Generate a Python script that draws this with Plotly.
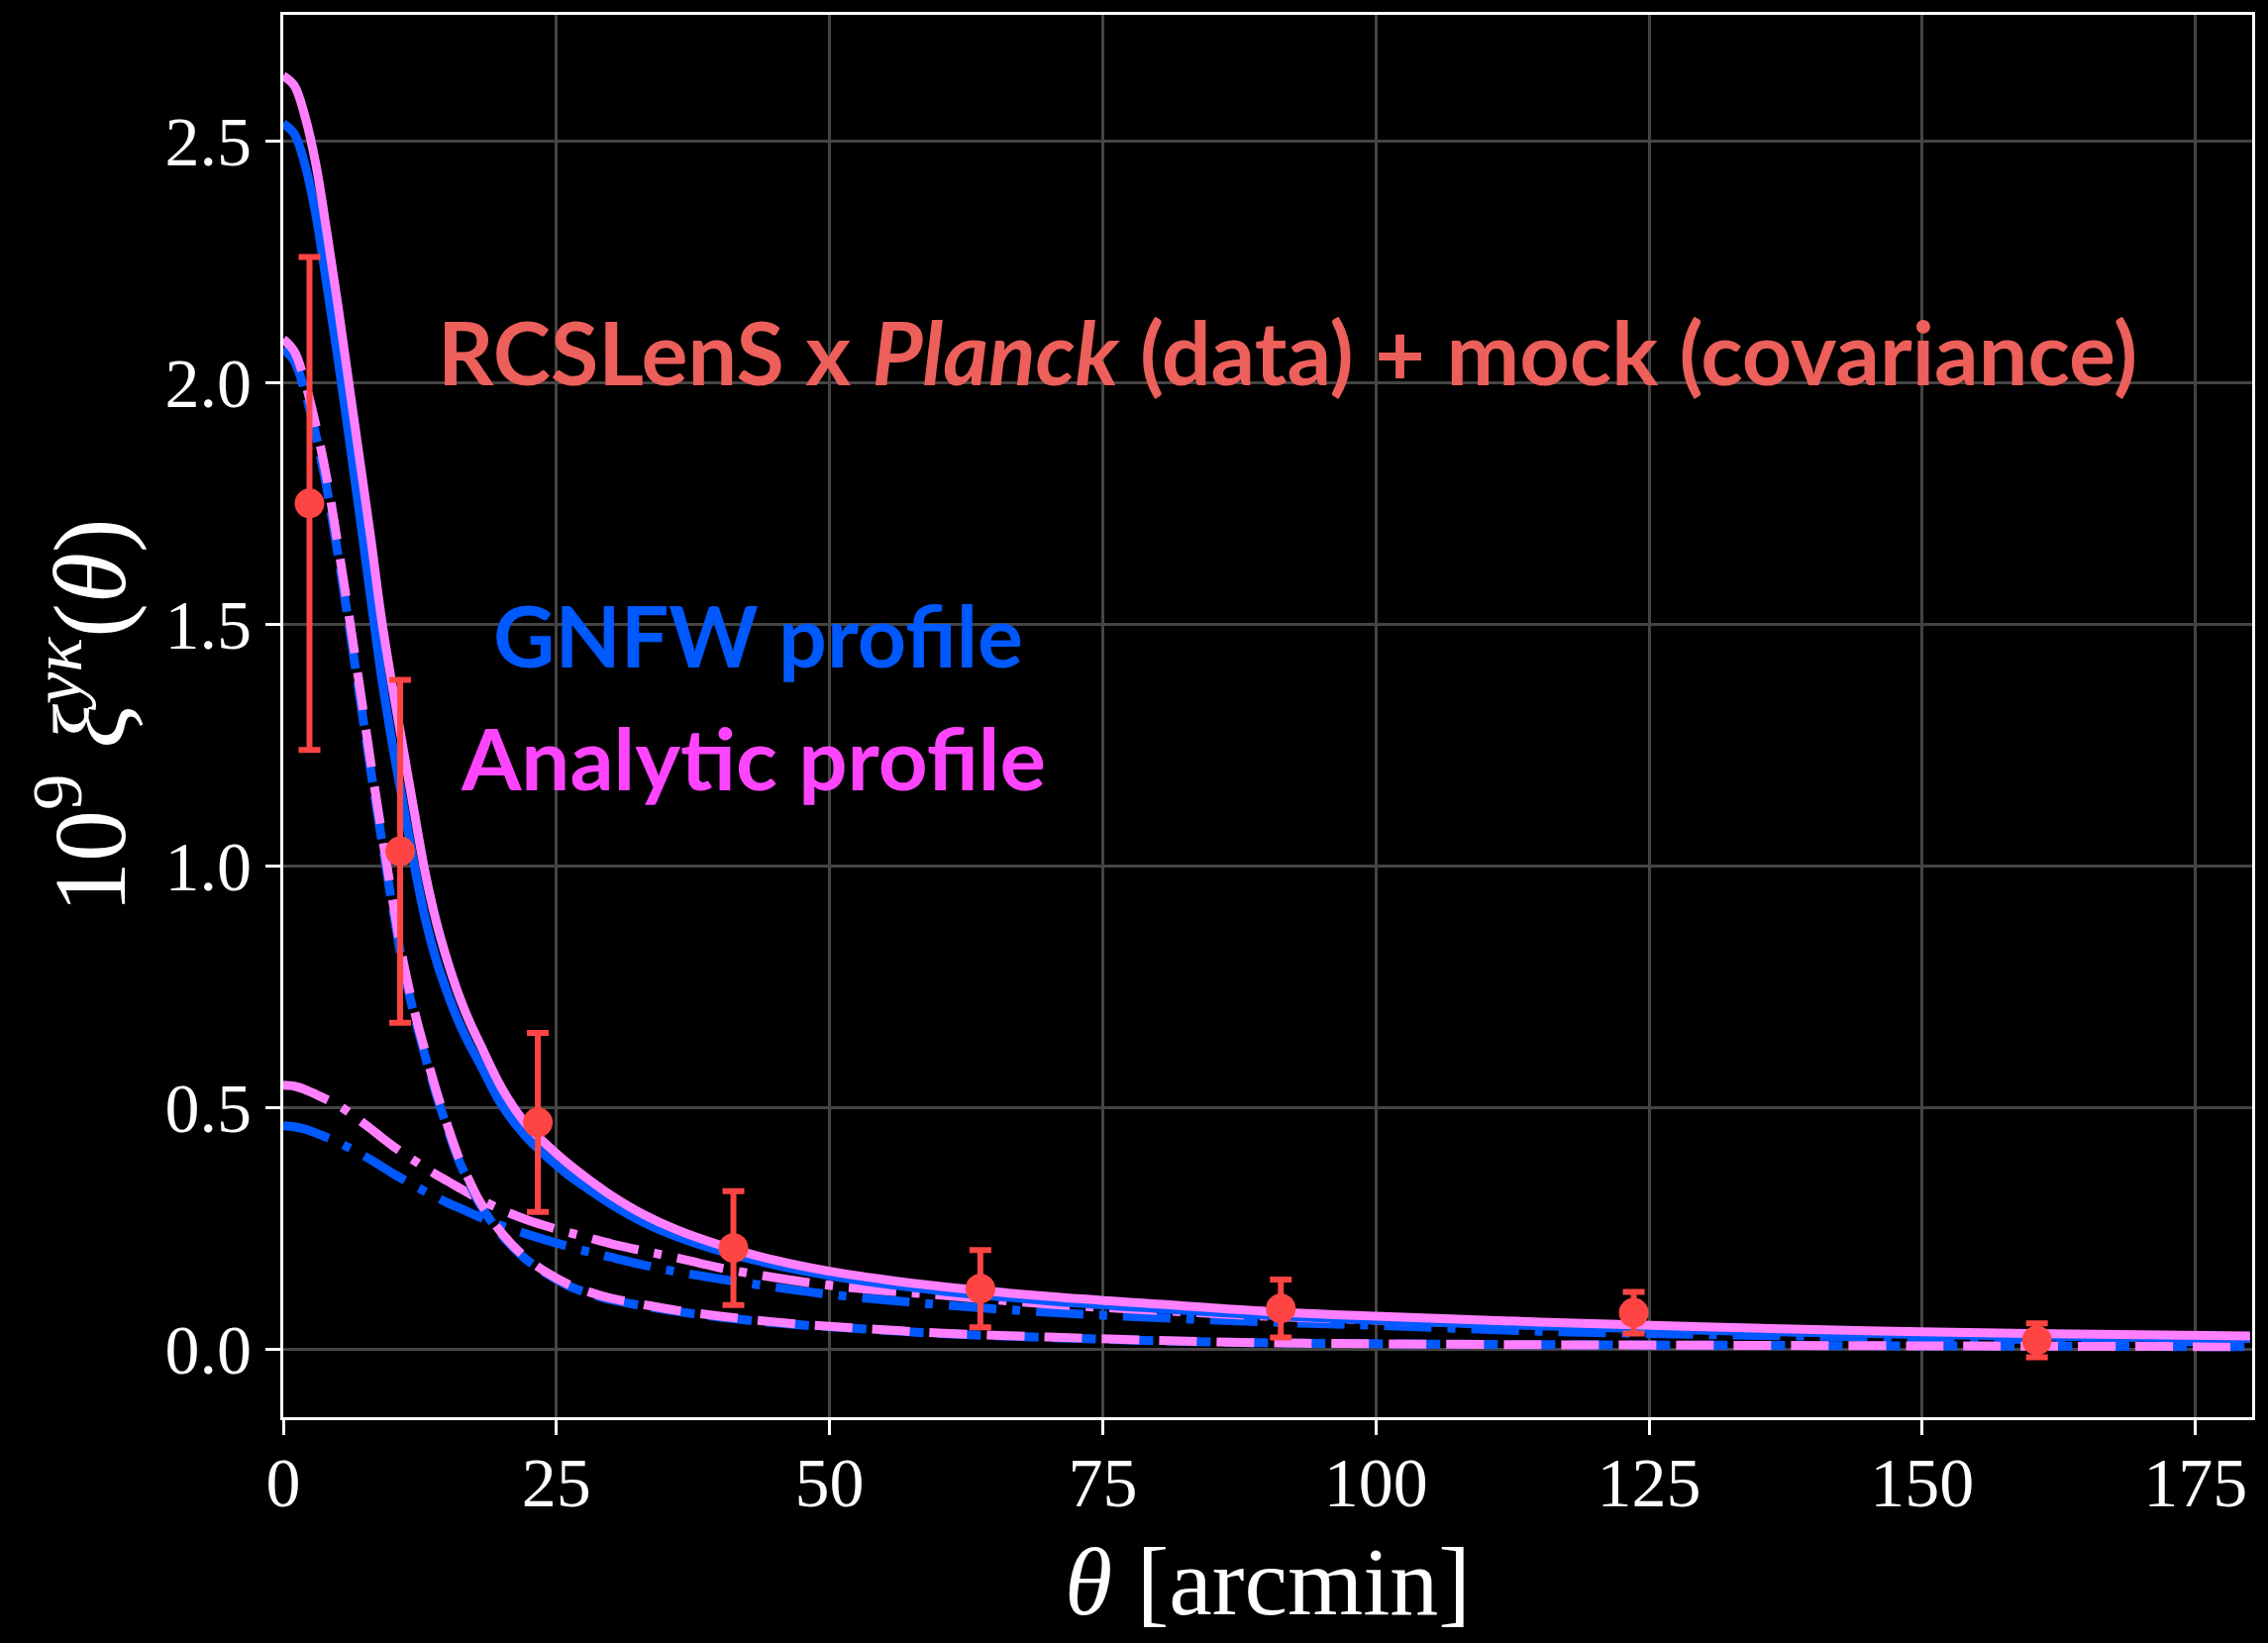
import plotly.graph_objects as go

# ---------------- data ----------------
theta = [0, 1, 2, 3, 4, 5, 6, 7, 8, 9, 10, 11, 12, 13, 14, 15, 16, 17, 18, 20, 22, 24, 26, 28, 30,
         33, 36, 40, 45, 50, 55, 60, 70, 80, 90, 100, 115, 130, 145, 160, 180]

analytic_total = [2.635, 2.615, 2.55, 2.45, 2.31, 2.16, 2.0, 1.84, 1.68, 1.51, 1.37, 1.24, 1.11, 0.985,
                  0.885, 0.805, 0.737, 0.68, 0.632, 0.54, 0.472, 0.425, 0.385, 0.35, 0.318,
                  0.278, 0.247, 0.215, 0.184, 0.161, 0.144, 0.13, 0.109, 0.093, 0.078, 0.068, 0.056,
                  0.046, 0.038, 0.032, 0.027]

gnfw_total = [2.536, 2.515, 2.45, 2.345, 2.2, 2.05, 1.89, 1.725, 1.555, 1.39, 1.25, 1.125, 1.0, 0.89,
              0.805, 0.738, 0.68, 0.632, 0.59, 0.505, 0.445, 0.4, 0.362, 0.33, 0.3,
              0.262, 0.233, 0.203, 0.174, 0.152, 0.135, 0.121, 0.1, 0.084, 0.07, 0.06, 0.048,
              0.039, 0.032, 0.027, 0.022]

analytic_1h = [2.09, 2.065, 2.00, 1.91, 1.80, 1.665, 1.52, 1.37, 1.215, 1.07, 0.93, 0.80, 0.70, 0.615,
               0.535, 0.465, 0.40, 0.35, 0.305, 0.24, 0.193, 0.16, 0.135, 0.118, 0.105,
               0.092, 0.08, 0.068, 0.056, 0.047, 0.04, 0.033, 0.025, 0.018, 0.013, 0.011, 0.009,
               0.008, 0.007, 0.006, 0.005]

gnfw_1h = [2.07, 2.045, 1.98, 1.89, 1.78, 1.645, 1.50, 1.35, 1.198, 1.055, 0.915, 0.788, 0.69, 0.605,
           0.527, 0.458, 0.394, 0.345, 0.3, 0.236, 0.19, 0.157, 0.132, 0.115, 0.102,
           0.089, 0.078, 0.066, 0.054, 0.046, 0.039, 0.032, 0.024, 0.017, 0.013, 0.011, 0.009,
           0.008, 0.007, 0.006, 0.005]

analytic_2h = [0.546, 0.544, 0.537, 0.527, 0.516, 0.505, 0.49, 0.473, 0.456, 0.438, 0.421, 0.405, 0.39,
               0.375, 0.361, 0.348, 0.335, 0.322, 0.31, 0.288, 0.27, 0.255, 0.242, 0.23, 0.218,
               0.203, 0.189, 0.168, 0.148, 0.132, 0.121, 0.112, 0.093, 0.08, 0.068, 0.06, 0.05,
               0.041, 0.034, 0.028, 0.022]

gnfw_2h = [0.462, 0.46, 0.455, 0.447, 0.438, 0.428, 0.417, 0.405, 0.392, 0.378, 0.364, 0.351, 0.338,
           0.326, 0.314, 0.303, 0.293, 0.283, 0.273, 0.255, 0.24, 0.226, 0.213, 0.201, 0.19,
           0.174, 0.16, 0.145, 0.128, 0.113, 0.102, 0.092, 0.076, 0.065, 0.056, 0.049, 0.037,
           0.03, 0.025, 0.02, 0.013]

theta_data = [2.4, 10.7, 23.3, 41.2, 63.8, 91.3, 123.6, 160.5]
xi_data = [1.75, 1.03, 0.469, 0.209, 0.125, 0.084, 0.075, 0.018]
xi_err = [0.51, 0.355, 0.185, 0.118, 0.08, 0.06, 0.043, 0.035]

x_ticks = [0, 25, 50, 75, 100, 125, 150, 175]
y_ticks = [0.0, 0.5, 1.0, 1.5, 2.0, 2.5]
y_ticktext = ["0.0", "0.5", "1.0", "1.5", "2.0", "2.5"]

# ---------------- styles ----------------
PINK = "#FF80FF"
BLUE = "#0058FF"
RED = "#FF4444"
LW = 9

fig = go.Figure()

def add_line(y, color, dash, width=LW):
    fig.add_trace(go.Scatter(x=theta, y=y, mode="lines",
                             line=dict(color=color, width=width, dash=dash, shape="spline", smoothing=1.0),
                             hoverinfo="skip", showlegend=False))

DASHDOT = "48px,16px,8px,16px"
add_line(gnfw_2h, BLUE, DASHDOT)
add_line(analytic_2h, PINK, DASHDOT)
add_line(gnfw_1h, BLUE, "44px,14px")
add_line(analytic_1h, PINK, "38px,20px")
add_line(gnfw_total, BLUE, "solid")
add_line(analytic_total, PINK, "solid")

fig.add_trace(go.Scatter(
    x=theta_data, y=xi_data, mode="markers",
    marker=dict(color=RED, size=30, line=dict(width=0)),
    error_y=dict(type="data", array=xi_err, symmetric=True, color=RED, thickness=6, width=11),
    hoverinfo="skip", showlegend=False))

SERIF = "Liberation Serif, Times New Roman, serif"
TICKFONT = dict(family=SERIF, size=70, color="white")

fig.update_layout(
    width=2290, height=1659,
    paper_bgcolor="black", plot_bgcolor="black",
    margin=dict(l=286, r=16, t=12, b=228),
    showlegend=False,
    xaxis=dict(range=[0, 180.2], tickvals=x_ticks, ticks="outside", ticklen=15, tickwidth=3,
               tickcolor="white", tickfont=TICKFONT, ticklabelstandoff=-12,
               showgrid=True, gridcolor="#444444", gridwidth=3,
               showline=True, linecolor="white", linewidth=3, mirror=True, zeroline=False),
    yaxis=dict(range=[-0.141, 2.761], tickvals=y_ticks, ticktext=y_ticktext, ticks="outside", ticklen=15,
               tickwidth=3, tickcolor="white", tickfont=TICKFONT, showgrid=True, gridcolor="#444444",
               gridwidth=3, showline=True, linecolor="white", linewidth=3, mirror=True, zeroline=False),
)

fig.add_annotation(xref="paper", yref="paper", x=0.5, y=0, yshift=-166, xanchor="center", yanchor="middle",
                   text="<i>θ</i> [arcmin]", showarrow=False,
                   font=dict(family=SERIF, size=98, color="white"))
fig.add_annotation(xref="paper", yref="paper", x=0, y=0.5, xshift=-203, xanchor="center", yanchor="middle",
                   textangle=-90, text="10<sup>9</sup> <i>ξ</i><sup><i>yκ</i></sup>(<i>θ</i>)", showarrow=False,
                   font=dict(family=SERIF, size=104, color="white"))

SANS = "Lato, Open Sans, sans-serif"
fig.add_annotation(xref="x", yref="y", x=14.0, y=2.065, xanchor="left", yanchor="middle",
                   text="<b>RCSLenS x <i>Planck</i> (data) + mock (covariance)</b>", showarrow=False,
                   font=dict(family=SANS, size=88, color="#EC5F5A"))
fig.add_annotation(xref="x", yref="y", x=19.0, y=1.48, xanchor="left", yanchor="middle",
                   text="<b>GNFW profile</b>", showarrow=False,
                   font=dict(family=SANS, size=86, color=BLUE))
fig.add_annotation(xref="x", yref="y", x=16.0, y=1.225, xanchor="left", yanchor="middle",
                   text="<b>Analytic profile</b>", showarrow=False,
                   font=dict(family=SANS, size=87, color="#FF44FF"))

fig.write_html("out.html")
